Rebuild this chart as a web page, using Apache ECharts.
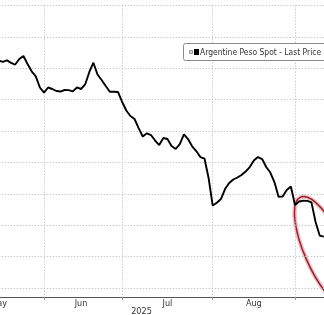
<!DOCTYPE html>
<html>
<head>
<meta charset="utf-8">
<script src="https://cdn.jsdelivr.net/npm/echarts@6/dist/echarts.min.js"></script>
<style>html,body{margin:0;padding:0;background:#fff;}#c{width:324px;height:315px;}</style>
</head>
<body>
<div id="c"></div>
<script>
const dates = [
 '2025-05-16','2025-05-19','2025-05-20','2025-05-21','2025-05-22','2025-05-23','2025-05-26','2025-05-27','2025-05-28','2025-05-29','2025-05-30',
 '2025-06-02','2025-06-03','2025-06-04','2025-06-05','2025-06-06','2025-06-09','2025-06-10','2025-06-11','2025-06-12','2025-06-13',
 '2025-06-17','2025-06-18','2025-06-19','2025-06-23','2025-06-24','2025-06-25','2025-06-26','2025-06-27','2025-06-30',
 '2025-07-01','2025-07-02','2025-07-03','2025-07-04','2025-07-07','2025-07-08','2025-07-10','2025-07-11','2025-07-14','2025-07-15','2025-07-16',
 '2025-07-17','2025-07-18','2025-07-21','2025-07-22','2025-07-23','2025-07-24','2025-07-25','2025-07-28','2025-07-29','2025-07-30','2025-07-31',
 '2025-08-01','2025-08-04','2025-08-05','2025-08-06','2025-08-07','2025-08-08','2025-08-11','2025-08-12','2025-08-13','2025-08-14',
 '2025-08-18','2025-08-19','2025-08-20','2025-08-21','2025-08-22','2025-08-25','2025-08-26','2025-08-27','2025-08-28','2025-08-29',
 '2025-09-01','2025-09-02','2025-09-03','2025-09-04','2025-09-05','2025-09-08','2025-09-09','2025-09-10'
];
const values = [
 1137.5,1139.6,1137.2,1141.2,1143.9,1135.1,1130.3,1143.1,1154.7,1162.7,1180.5,
 1188.5,1180.5,1182.9,1186.1,1186.9,1184.5,1184.7,1186.6,1180.4,1182.9,
 1175.6,1156.1,1141.0,1159.8,1168.6,1178.1,1187.2,1187.2,1187.7,
 1203.6,1217.2,1225.9,1230.7,1245.1,1258.6,1253.5,1256.2,1265.0,1272.2,1261.0,
 1262.6,1273.7,1278.5,1270.6,1255.1,1262.6,1274.2,1281.7,1291.3,1293.7,1324.7,
 1368.6,1364.1,1358.2,1342.3,1332.7,1327.1,1323.9,1320.0,1314.4,1307.2,
 1296.9,1291.3,1294.5,1307.2,1316.0,1331.1,1354.5,1354.2,1343.9,1338.3,
 1367.8,1362.2,1360.9,1361.1,1363.5,1394.9,1416.4,1418.0
];
const monthLabels = ['May','Jun','Jul','Aug'];
const monthLabelDates = ['2025-05-16','2025-06-13','2025-07-17','2025-08-18'];
const yearLabel = '2025';
const seriesName = 'Argentine Peso Spot - Last Price 1418.00';

const monthStart = new Set();
for (let i = 1; i < dates.length; i++) {
  if (dates[i].slice(5, 7) !== dates[i - 1].slice(5, 7)) monthStart.add(i);
}
const labelAt = {};
monthLabelDates.forEach((d, k) => { labelAt[dates.indexOf(d)] = monthLabels[k]; });

const FONT = "'Liberation Sans Narrow','Arial Narrow','DejaVu Sans Condensed',sans-serif";
const chart = echarts.init(document.getElementById('c'), null, {renderer: 'canvas'});
chart.setOption({
  animation: false,
  backgroundColor: '#ffffff',
  grid: {left: -1.26, right: 0.2, top: 5.6, bottom: 18, containLabel: false, outerBoundsMode: 'none'},
  xAxis: {
    type: 'category',
    data: dates,
    boundaryGap: false,
    axisLine: {show: true, lineStyle: {color: '#555', width: 1}},
    axisTick: {show: true, length: 3, interval: (i) => monthStart.has(i), lineStyle: {color: '#999'}},
    axisLabel: {
      show: true, interval: (i) => labelAt[i] !== undefined,
      formatter: (v, i) => labelAt[i] || '',
      color: '#333', fontSize: 9, fontFamily: FONT, margin: 2, hideOverlap: false
    },
    splitLine: {show: true, interval: (i) => monthStart.has(i), lineStyle: {color: '#b5b5b5', width: 1, type: [1, 2]}}
  },
  yAxis: {
    type: 'value',
    inverse: true,
    min: 1050,
    max: 1514.3,
    interval: 50,
    axisLine: {show: false},
    axisTick: {show: false},
    axisLabel: {show: false},
    splitLine: {show: true, lineStyle: {color: '#b5b5b5', width: 1, type: [1, 2]}}
  },
  series: [{
    name: seriesName,
    type: 'line',
    data: values,
    showSymbol: false,
    lineStyle: {color: '#000', width: 1.9},
    z: 3
  }],
  graphic: [
    {type: 'group', x: 325, y: 252, rotation: -66 * Math.PI / 180, z: 10, children: [
      {type: 'ellipse', shape: {cx: 0, cy: 0, rx: 60, ry: 20}, style: {fill: 'none', stroke: 'rgba(200,90,100,0.35)', lineWidth: 4.5}},
      {type: 'ellipse', shape: {cx: 0, cy: 0, rx: 60, ry: 20}, style: {fill: 'none', stroke: '#9e1b2a', lineWidth: 1.5}}
    ]},
    {type: 'rect', z: 20, shape: {x: 183.5, y: 43.5, width: 200, height: 17, r: 2}, style: {fill: '#fff', stroke: '#8a8a8a', lineWidth: 1}},
    {type: 'rect', z: 21, shape: {x: 189.5, y: 50.5, width: 3, height: 3}, style: {fill: '#ddd', stroke: '#999', lineWidth: 1}},
    {type: 'rect', z: 21, shape: {x: 194, y: 49, width: 5, height: 6}, style: {fill: '#000'}},
    {type: 'text', z: 21, x: 200, y: 52.5, scaleX: 0.92, style: {text: seriesName, fill: '#333', font: '9.2px ' + FONT, textVerticalAlign: 'middle', textAlign: 'left'}},
    {type: 'text', z: 21, x: 141.5, y: 307, style: {text: yearLabel, fill: '#333', font: '9px ' + FONT, textAlign: 'center', textVerticalAlign: 'top'}}
  ]
});
</script>
</body>
</html>
